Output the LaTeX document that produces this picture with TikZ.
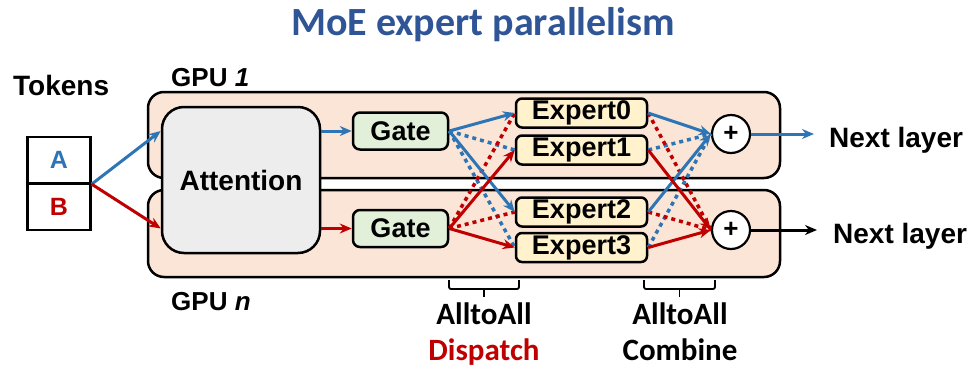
\documentclass[tikz,border=0pt]{standalone}
\usepackage{fontspec}
\setmainfont{Liberation Sans}
\newfontfamily\califont{Carlito}
\usepackage{xcolor}
\usepackage{tikz}
\usetikzlibrary{arrows.meta,positioning}

\definecolor{tokblue}{RGB}{46,117,182}
\definecolor{tokred}{RGB}{192,0,0}
\definecolor{titleblue}{RGB}{47,85,151}
\definecolor{gpufill}{RGB}{251,229,214}
\definecolor{attfill}{RGB}{237,237,237}
\definecolor{gatefill}{RGB}{226,240,217}
\definecolor{expfill}{RGB}{255,242,204}

\newcommand{\fsz}[1]{\fontsize{#1}{#1}\selectfont}

\tikzset{
  gpubox/.style={draw, line width=2.5pt, fill=gpufill, rounded corners=16pt,
    minimum width=632pt, minimum height=86pt},
  attbox/.style={draw, line width=2.5pt, fill=attfill, rounded corners=22pt,
    minimum width=158pt, minimum height=146pt, font=\bfseries\fsz{28}},
  gatebox/.style={draw, line width=2.5pt, fill=gatefill, rounded corners=7pt,
    minimum width=95pt, minimum height=37pt, font=\bfseries\fsz{27}},
  expbox/.style={draw, line width=2.5pt, fill=expfill, rounded corners=6pt,
    minimum width=131pt, minimum height=29pt, inner sep=0pt, font=\bfseries\fsz{27}},
  sumnode/.style={draw, circle, line width=2.2pt, fill=white, minimum size=38pt,
    inner sep=0pt, font=\bfseries\fsz{26}},
  tokbox/.style={draw, line width=2.3pt, minimum width=63pt, minimum height=46pt,
    font=\bfseries\fsz{25}},
  flowA/.style={tokblue, line width=3pt},
  flowAd/.style={tokblue, line width=3.5pt, dash pattern=on 4pt off 4pt},
  flowB/.style={tokred, line width=3pt},
  flowBd/.style={tokred, line width=3.5pt, dash pattern=on 4pt off 4pt},
  bracket/.style={line width=1.8pt, rounded corners=2pt},
  lbl/.style={anchor=base, inner sep=0pt, font=\califont\bfseries\fsz{31}}
}

\begin{document}
\begin{tikzpicture}[>={Stealth[length=12pt,width=10pt]}, x=1pt, y=-1pt]
  \useasboundingbox (0,0) rectangle (973,367);

  % Title
  \node[anchor=base, inner sep=0pt, text=titleblue, font=\califont\bfseries\fsz{40}]
    (title) at (483,35) {MoE expert parallelism};

  % GPU boxes
  \node[gpubox] (gpuA) at (464,135) {};
  \node[gpubox, minimum height=87pt] (gpuN) at (464,233.5) {};
  \node[anchor=base west, inner sep=0pt, font=\bfseries\fsz{26}] (gpuAlbl) at (171,86) {GPU \textit{1}};
  \node[anchor=base west, inner sep=0pt, font=\bfseries\fsz{26}] (gpuNlbl) at (171,310) {GPU \textit{n}};

  % Tokens
  \node[anchor=base west, inner sep=0pt, font=\bfseries\fsz{28}] (toklbl) at (13,95) {Tokens};
  \node[tokbox, text=tokblue] (tokA) at (59,160) {A};
  \node[tokbox, text=tokred, below=0pt of tokA, yshift=1pt] (tokB) {B};

  % Attention and gates
  \node[attbox] (att) at (241,180) {Attention};
  \node[gatebox] (gateA) at (400.5,131) {Gate};
  \node[gatebox] (gateN) at (400.5,228.5) {Gate};

  % Experts
  \node[expbox] (exp0) at (581.5,113) {Expert0};
  \node[expbox] (exp1) at (581.5,150) {Expert1};
  \node[expbox] (exp2) at (581.5,212) {Expert2};
  \node[expbox] (exp3) at (581.5,247.5) {Expert3};

  % Sum nodes and outputs
  \node[sumnode] (sumA) at (731,134) {+};
  \node[sumnode] (sumN) at (731,230) {+};
  \node[anchor=base west, inner sep=0pt, font=\bfseries\fsz{28}] (nextA) at (829,147) {Next layer};
  \node[anchor=base west, inner sep=0pt, font=\bfseries\fsz{28}] (nextN) at (833,243) {Next layer};

  % Tokens into attention
  \draw[flowA,->] (tokA.south east) -- (att.west |- gateA);
  \draw[flowB,->] (tokA.south east) -- (att.west |- gateN);
  \draw[flowA,->] (att.east |- gateA) -- (gateA);
  \draw[flowB,->] (att.east |- gateN) -- (gateN);

  % Dispatch
  \draw[flowAd] (gateA.east) -- (exp1.west);
  \draw[flowAd] (gateA.east) -- (exp3.west);
  \draw[flowBd] (gateN.east) -- (exp0.west);
  \draw[flowBd] (gateN.east) -- (exp2.west);
  \draw[flowA,->] (gateA.east) -- (exp0.west);
  \draw[flowA,->] (gateA.east) -- (exp2.west);
  \draw[flowB,->] (gateN.east) -- (exp1.west);
  \draw[flowB,->] (gateN.east) -- (exp3.west);

  % Combine
  \draw[flowAd] (exp1.east) -- (sumA.west);
  \draw[flowAd] (exp3.east) -- (sumA.west);
  \draw[flowBd] (exp0.east) -- (sumN.west);
  \draw[flowBd] (exp2.east) -- (sumN.west);
  \draw[flowA,->] (exp0.east) -- (sumA.west);
  \draw[flowA,->] (exp2.east) -- (sumA.west);
  \draw[flowB,->] (exp1.east) -- (sumN.west);
  \draw[flowB,->] (exp3.east) -- (sumN.west);

  % Outputs
  \draw[flowA,->] (sumA) -- (nextA.west |- sumA) [shorten >=15pt];
  \draw[line width=3pt,->] (sumN) -- (nextN.west |- sumN) [shorten >=16pt];

  % AlltoAll brackets
  \coordinate (dspL) at (449,280);
  \coordinate (dspR) at (519,280);
  \coordinate (cmbL) at (644,280);
  \coordinate (cmbR) at (715,280);
  \draw[bracket] (dspL) -- ++(0,9) -| (dspR);
  \draw[bracket] (484,289) -- ++(0,8);
  \draw[bracket] (cmbL) -- ++(0,9) -| (cmbR);
  \draw[bracket] (679.5,289) -- ++(0,8);

  % Labels below
  \node[lbl] (dspA) at (484,324) {AlltoAll};
  \node[lbl, text=tokred] (dspB) at (484,360) {Dispatch};
  \node[lbl] (cmbA) at (680,324) {AlltoAll};
  \node[lbl] (cmbB) at (680,360) {Combine};
\end{tikzpicture}
\end{document}
